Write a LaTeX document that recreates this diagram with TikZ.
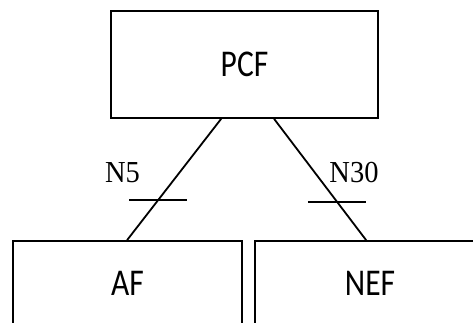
\documentclass[tikz,border=0pt]{standalone}
\usepackage{graphicx}
\usepackage{fontspec}
\setmainfont{Liberation Serif}
\newfontfamily\boxfont{Carlito}
\usetikzlibrary{calc}
\newcommand{\tallbox}[1]{\scalebox{1}[1.2]{#1}}
\newcommand{\tallser}[1]{\scalebox{1}[1.07]{#1}}
\begin{document}
\begin{tikzpicture}[x=1pt,y=-1pt,
  fbox/.style={draw=black,line width=1.8pt,rectangle,inner sep=0pt,font=\boxfont\fontsize{31.5}{36}\selectfont},
  link/.style={draw=black,line width=1.8pt},
  lbl/.style={font=\fontsize{28.5}{32}\selectfont,inner sep=0pt}]
\useasboundingbox (0,0) rectangle (473,323);
\clip (0,0) rectangle (473,323);
\node[fbox,minimum width=267pt,minimum height=107pt] (PCF) at (244.5,64.5) {\tallbox{PCF}};
\node[fbox,minimum width=229pt,minimum height=85pt] (AF) at (127.5,283.5) {\tallbox{AF}};
\node[fbox,minimum width=230pt,minimum height=85pt] (NEF) at (370,283.5) {\tallbox{NEF}};
\coordinate (p1) at ($(PCF.south west)+(111,0)$);
\coordinate (p2) at ($(PCF.south west)+(164,0)$);
\coordinate (a1) at ($(AF.north west)+(115,0)$);
\coordinate (n1) at ($(NEF.north west)+(112,0)$);
\draw[link] (p1) -- (a1) coordinate[pos=0.667] (t1);
\draw[link] (p2) -- (n1) coordinate[pos=0.683] (t2);
\draw[link] ($(t1)+(-29,0)$) -- ($(t1)+(29,0)$);
\draw[link] ($(t2)+(-29,0)$) -- ($(t2)+(29,0)$);
\node[lbl] (n5) at (122.5,172.5) {\tallser{N5}};
\node[lbl] (n30) at (354,172.5) {\tallser{N30}};
\end{tikzpicture}
\end{document}
